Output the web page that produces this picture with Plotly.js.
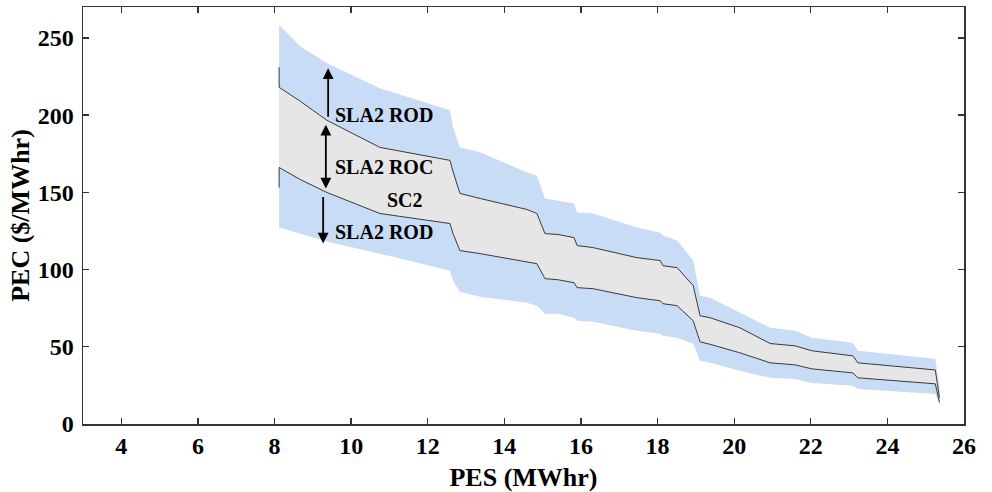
<!DOCTYPE html>
<html>
<head>
<meta charset="utf-8">
<script src="https://cdn.plot.ly/plotly-3.0.1.min.js"></script>
<style>html,body{margin:0;padding:0;background:#fff;}#chart{width:992px;height:492px;}</style>
</head>
<body>
<div id="chart"></div>
<script>
// PES (MWhr) breakpoints shared by all curves
const pes = [8.12, 8.67, 9.37, 10.75, 12.58, 12.66, 12.84, 13.37, 14.59, 14.85, 15.06, 15.40, 15.82, 15.90, 16.32, 17.46, 18.07, 18.14, 18.51, 18.93, 19.11, 19.37, 20.15, 20.94, 21.59, 22.03, 23.10, 23.23, 25.25, 25.36];
// SC2 band (upper / lower PEC curves)
const sc2Upper = [218.0, 209.0, 196.6, 179.1, 170.7, 163.5, 149.3, 146.0, 138.9, 136.3, 123.3, 122.7, 120.7, 115.5, 114.2, 107.7, 105.8, 102.5, 101.2, 89.6, 70.1, 68.8, 62.3, 52.1, 50.6, 47.4, 44.1, 39.6, 35.0, 17.0];
const sc2Lower = [166.1, 158.3, 149.9, 136.3, 129.8, 123.3, 112.3, 110.3, 104.8, 103.8, 94.1, 93.4, 91.5, 88.3, 87.6, 81.8, 79.8, 77.9, 76.6, 66.8, 53.2, 51.6, 46.1, 39.6, 38.3, 35.7, 33.1, 29.9, 26.0, 14.0];
// SLA2 band (upper / lower)
const slaUpper = [258.3, 244.6, 233.6, 217.4, 203.1, 192.1, 179.1, 175.9, 162.9, 160.9, 146.0, 144.7, 142.8, 136.9, 136.3, 127.2, 123.9, 122.0, 118.8, 105.8, 83.1, 81.8, 72.0, 62.3, 60.4, 55.8, 52.6, 47.4, 42.2, 23.4];
const slaLower = [127.2, 123.3, 118.1, 110.3, 99.3, 92.8, 85.7, 82.4, 78.5, 76.6, 71.4, 71.4, 68.8, 66.8, 66.2, 60.4, 58.4, 57.1, 55.8, 51.9, 40.9, 39.6, 34.4, 29.9, 29.2, 26.6, 24.7, 22.7, 19.5, 13.0];
// start stubs of the SC2 outline
const upperStart = 231;
const lowerStart = 153;
// annotation arrows and labels
const arrowX = [9.40, 9.34, 9.27];
const arrowTop = [230.4, 194.7, 148.0];
const arrowBottom = [198.0, 152.5, 116.8];
const labelText = ['SLA2 ROD', 'SLA2 ROC', 'SC2', 'SLA2 ROD'];
const labelX = [9.53, 9.53, 11.41, 9.53];
const labelY = [200.0, 166.4, 145.0, 124.3];

const blue = 'rgb(200,220,245)';
const gray = 'rgb(230,230,230)';
const lineCol = '#3a3a3a';
const font = 'Liberation Serif, Times New Roman, serif';

const traces = [
  {x: pes, y: slaLower, mode: 'lines', line: {width: 0, color: blue}, hoverinfo: 'skip', showlegend: false},
  {x: pes, y: slaUpper, mode: 'lines', line: {width: 0, color: blue}, fill: 'tonexty', fillcolor: blue, hoverinfo: 'skip', showlegend: false},
  {x: pes, y: sc2Lower, mode: 'lines', line: {width: 0, color: gray}, hoverinfo: 'skip', showlegend: false},
  {x: pes, y: sc2Upper, mode: 'lines', line: {width: 0, color: gray}, fill: 'tonexty', fillcolor: gray, hoverinfo: 'skip', showlegend: false},
  {x: [pes[0]].concat(pes), y: [upperStart].concat(sc2Upper), mode: 'lines', line: {width: 1, color: lineCol}, showlegend: false},
  {x: [pes[0]].concat(pes), y: [lowerStart].concat(sc2Lower), mode: 'lines', line: {width: 1, color: lineCol}, showlegend: false}
];

const annotations = [];
annotations.push({x: arrowX[0], y: arrowTop[0], ax: arrowX[0], ay: arrowBottom[0], xref: 'x', yref: 'y', axref: 'x', ayref: 'y', showarrow: true, arrowhead: 2, arrowsize: 1.2, arrowwidth: 1.8, arrowcolor: '#000', text: ''});
annotations.push({x: arrowX[1], y: arrowBottom[1], ax: arrowX[1], ay: arrowTop[1], xref: 'x', yref: 'y', axref: 'x', ayref: 'y', showarrow: true, arrowhead: 2, startarrowhead: 2, arrowside: 'end+start', arrowsize: 1.2, startarrowsize: 1.2, arrowwidth: 1.8, arrowcolor: '#000', text: ''});
annotations.push({x: arrowX[2], y: arrowBottom[2], ax: arrowX[2], ay: arrowTop[2], xref: 'x', yref: 'y', axref: 'x', ayref: 'y', showarrow: true, arrowhead: 2, arrowsize: 1.2, arrowwidth: 1.8, arrowcolor: '#000', text: ''});
labelText.forEach((t, i) => {
  annotations.push({x: labelX[i], y: labelY[i], xref: 'x', yref: 'y', text: '<b>' + t + '</b>', showarrow: false,
    xanchor: t === 'SC2' ? 'center' : 'left', yanchor: 'middle', font: {family: font, size: 20, color: '#000'}});
});

const axisCommon = {
  showline: true, mirror: 'ticks', linecolor: '#333', linewidth: 1.5,
  ticks: 'inside', ticklen: 6, tickwidth: 1.3, tickcolor: '#333',
  showgrid: false, zeroline: false,
  tickfont: {family: font, size: 24, color: '#000', weight: 'bold'}
};

const layout = {
  width: 992, height: 492,
  margin: {l: 83, r: 28, t: 7, b: 68},
  paper_bgcolor: '#fff', plot_bgcolor: '#fff',
  xaxis: Object.assign({}, axisCommon, {range: [3, 26], tick0: 0, dtick: 2,
    title: {text: '<b>PES (MWhr)</b>', font: {family: font, size: 26, color: '#000'}, standoff: 10}}),
  yaxis: Object.assign({}, axisCommon, {range: [0, 270], tick0: 0, dtick: 50, ticklabelstandoff: 3,
    title: {text: '<b>PEC ($/MWhr)</b>', font: {family: font, size: 26, color: '#000'}, standoff: 0}}),
  annotations: annotations,
  showlegend: false
};

Plotly.newPlot('chart', traces, layout, {staticPlot: true, displayModeBar: false});
</script>
</body>
</html>
